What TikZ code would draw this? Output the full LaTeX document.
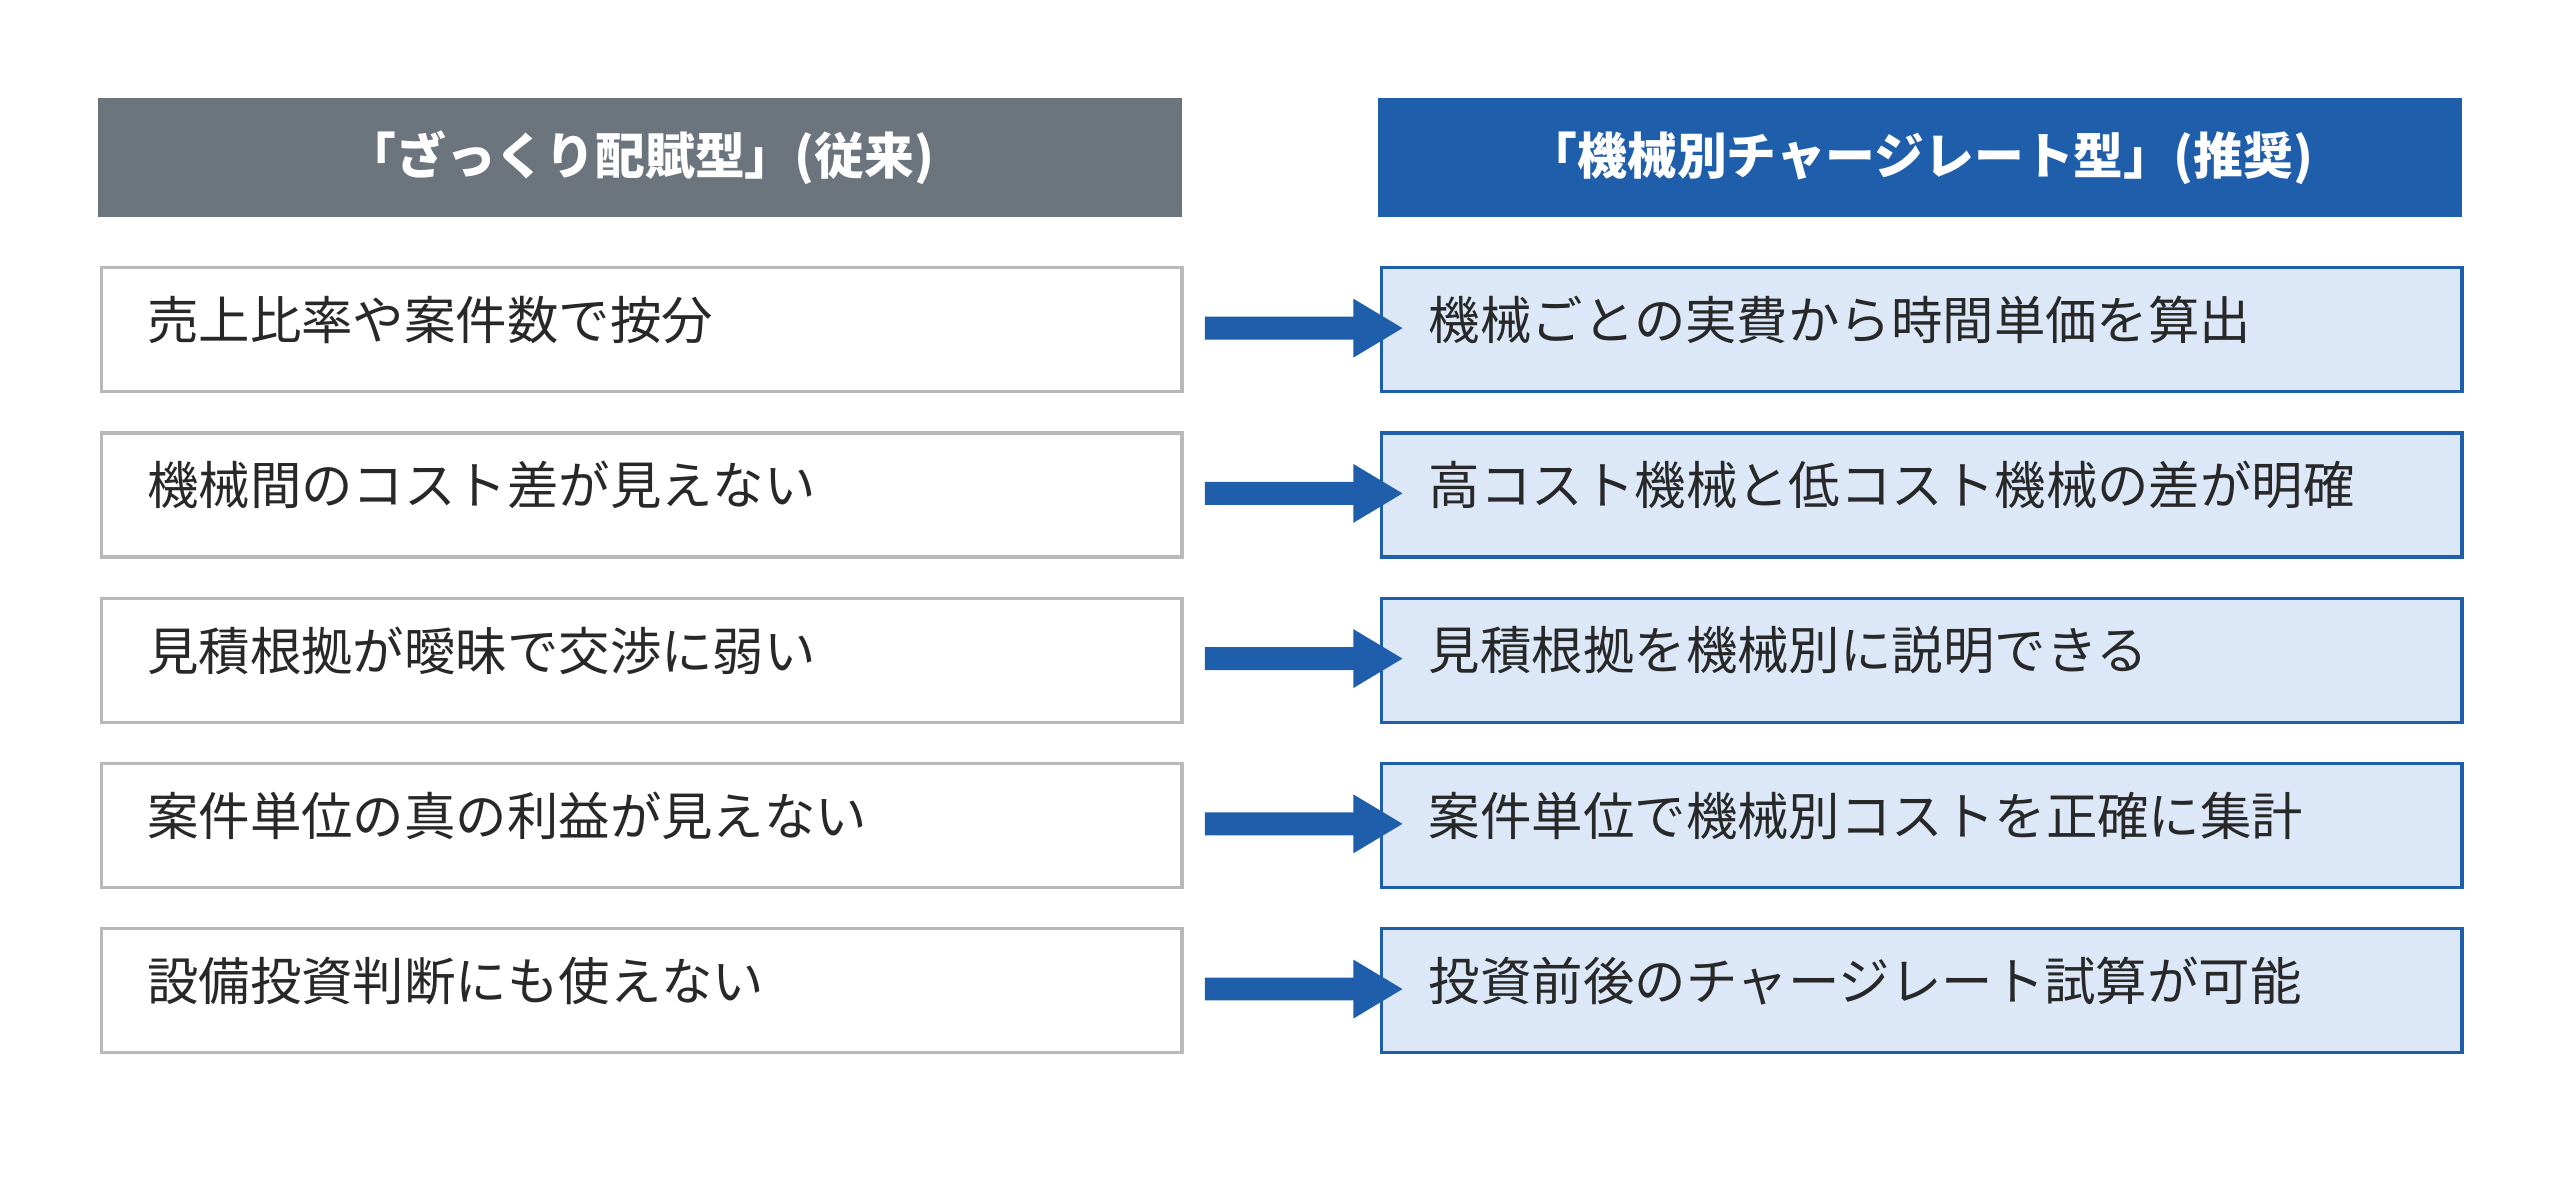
\documentclass[tikz,border=0pt]{standalone}
\usepackage{fontspec}
\setmainfont{Noto Sans CJK JP}
\definecolor{hgray}{RGB}{108,117,126}
\definecolor{hblue}{RGB}{31,94,170}
\definecolor{lblue}{RGB}{220,232,248}
\definecolor{bgray}{RGB}{185,185,185}
\definecolor{tx}{RGB}{40,40,40}
\begin{document}
\begin{tikzpicture}[x=1pt,y=-1pt,
 hdr/.style={minimum width=664pt,minimum height=73pt,anchor=north west,inner sep=0,text=white,font=\fontsize{30.5}{34}\selectfont\bfseries},
 lbox/.style={draw=bgray,line width=2pt,fill=white,minimum width=662pt,minimum height=76pt,anchor=north west,inner sep=0},
 rbox/.style={draw=hblue,line width=2pt,fill=lblue,minimum width=662pt,minimum height=76pt,anchor=north west,inner sep=0},
 txt/.style={anchor=west,text=tx,inner sep=0,font=\fontsize{31.5}{34}\selectfont}]
\useasboundingbox (0,0) rectangle (1568,730);
\node[hdr,fill=hgray] (h1) at (60,60) {「ざっくり配賦型」(従来)};
\node[hdr,fill=hblue] (h2) at (844,60) {「機械別チャージレート型」(推奨)};
\foreach \i/\a/\b in {0/売上比率や案件数で按分/機械ごとの実費から時間単価を算出,
 1/機械間のコスト差が見えない/高コスト機械と低コスト機械の差が明確,
 2/見積根拠が曖昧で交渉に弱い/見積根拠を機械別に説明できる,
 3/案件単位の真の利益が見えない/案件単位で機械別コストを正確に集計,
 4/設備投資判断にも使えない/投資前後のチャージレート試算が可能}{
  \pgfmathsetmacro\yy{163+101.2*\i}
  \node[lbox] (l\i) at (61,\yy) {};
  \node[rbox] (r\i) at (845,\yy) {};
  \node[txt] (lt\i) at (90,\yy+33) {\a};
  \node[txt] (rt\i) at (875,\yy+33) {\b};
  \fill[hblue] (738,\yy+31) -- (829,\yy+31) -- (829,\yy+20) -- (859,\yy+38) -- (829,\yy+56) -- (829,\yy+45) -- (738,\yy+45) -- cycle;
}
\end{tikzpicture}
\end{document}
